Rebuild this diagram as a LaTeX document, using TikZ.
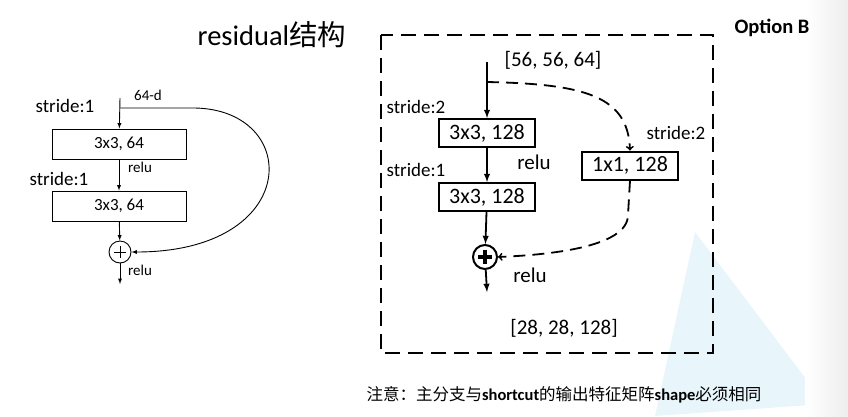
\documentclass[tikz,border=0pt]{standalone}
\usepackage{fontspec}
\setmainfont{Carlito}
\newfontfamily\cjk{Noto Sans CJK SC}
\usepackage{tikz}
\usetikzlibrary{arrows, positioning}
\definecolor{skyfaint}{RGB}{232,246,252}

\begin{document}
\begin{tikzpicture}[x=1pt, y=-1pt,
        smallbox/.style={draw, line width=0.9pt, minimum width=134pt, minimum height=30pt, inner sep=0pt, font=\fontsize{17}{19}\selectfont},
        boldbox/.style={draw, line width=2pt, minimum width=96pt, minimum height=28pt, inner sep=0pt, font=\fontsize{22}{24}\selectfont},
        lbl/.style={inner sep=0pt, font=\fontsize{19}{21}\selectfont},
        tinylbl/.style={inner sep=0pt, font=\fontsize{15}{17}\selectfont},
        biglbl/.style={inner sep=0pt, font=\fontsize{21}{24}\selectfont},
        thinarr/.style={-latex, line width=0.9pt},
        fatarr/.style={-latex, line width=1.8pt}]
        \useasboundingbox (0,0) rectangle (848,416);
        % slide background
        \fill[skyfaint] (695,232) -- (825,404) -- (655,416) -- cycle;
        \shade[left color=white, right color=black!7] (805,0) rectangle (848,416);

        % headings
        \node[inner sep=0pt, font=\fontsize{28.5}{32}\selectfont] (title) at (272,35) {residual{\cjk 结构}};
        \node[inner sep=0pt, font=\fontsize{20.5}{23}\selectfont\bfseries] (optb) at (772,28) {Option B};

        % plain residual block
        \coordinate (lin) at (120,98);
        \coordinate (lsplit) at (120,108);
        \coordinate (lout) at (120,284);
        \node[smallbox] (l1) at (119,144) {3x3, 64};
        \node[smallbox] (l2) at (119,206) {3x3, 64};
        \node[draw, circle, line width=0.9pt, minimum size=22pt, inner sep=0pt] (ladd) at (120,252) {};
        \draw[line width=0.9pt] ([xshift=-6pt]ladd.center) -- ([xshift=6pt]ladd.center)
            ([yshift=-6pt]ladd.center) -- ([yshift=6pt]ladd.center);
        \draw[thinarr] (lin) -- (l1);
        \draw[thinarr] (l1) -- (l2);
        \draw[thinarr] (l2) -- (ladd);
        \draw[thinarr] (ladd) -- (lout);
        \draw[thinarr] (lsplit) -- (195,108) .. controls (302,110) and (302,252) .. (ladd.east);
        \node[tinylbl] (ldim) at (148,95) {64-d};
        \node[lbl] (ls1) at (65,106) {stride:1};
        \node[tinylbl] (lr1) at (140,167) {relu};
        \node[lbl] (ls2) at (59,179) {stride:1};
        \node[tinylbl] (lr2) at (140,270) {relu};

        % option B block
        \draw[dash pattern=on 15pt off 8pt, line width=2.5pt] (381,35) rectangle (713,353);
        \coordinate (rin) at (487,62);
        \coordinate (rsplit) at (487,82);
        \coordinate (rout) at (487,292);
        \node[boldbox] (r1) at (487,133) {3x3, 128};
        \node[boldbox] (r2) at (487,197) {3x3, 128};
        \node[boldbox] (r3) at (630,165.5) {1x1, 128};
        \node[draw, circle, line width=2pt, minimum size=24pt, inner sep=0pt] (radd) at (485,257) {};
        \draw[line width=3.5pt] ([xshift=-7pt]radd.center) -- ([xshift=7pt]radd.center)
            ([yshift=-7pt]radd.center) -- ([yshift=7pt]radd.center);
        \draw[fatarr] (rin) -- (r1);
        \draw[fatarr] (r1) -- (r2);
        \draw[fatarr] (r2) -- (radd);
        \draw[fatarr] (radd) -- (rout);
        \draw[->, line width=1.8pt, dash pattern=on 12pt off 7pt] (rsplit) .. controls (585,84) and (628,96) .. (r3.north);
        \draw[->, line width=1.8pt, dash pattern=on 12pt off 7pt] (r3.south) -- (628,215) .. controls (628,248) and (545,255) .. (radd.east);
        \node[biglbl] (rdin) at (553,60) {[56, 56, 64]};
        \node[lbl] (rs1) at (416,107) {stride:2};
        \node[biglbl] (rr1) at (534,162) {relu};
        \node[lbl] (rs2) at (416,170) {stride:1};
        \node[lbl] (rs3) at (676,133) {stride:2};
        \node[biglbl] (rr2) at (530,275) {relu};
        \node[biglbl] (rdout) at (564,328) {[28, 28, 128]};

        % note
        \node[inner sep=0pt, font=\fontsize{16.5}{19}\selectfont] (note) at (564,395)
            {{\cjk 注意：主分支与}\textbf{shortcut}{\cjk 的输出特征矩阵}\textbf{shape}{\cjk 必须相同}};
    \end{tikzpicture}
\end{document}
